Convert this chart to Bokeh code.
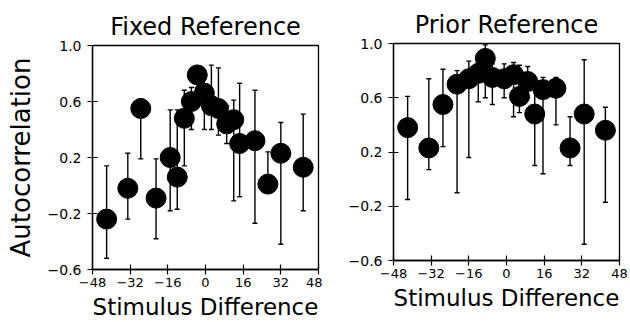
from bokeh.plotting import figure
from bokeh.layouts import row
from bokeh.models import Range1d, FixedTicker, ColumnDataSource, CustomJSTickFormatter
from bokeh.embed import file_html
from bokeh.resources import INLINE

# Fixed Reference panel
fixed_x = [-42, -33, -27.5, -21, -15, -12, -9, -6, -3.5, -0.5, 2.5, 5.5, 9, 12, 14.5, 21, 26.5, 32, 41.5]
fixed_y = [-0.24, -0.02, 0.55, -0.09, 0.20, 0.06, 0.48, 0.60, 0.79, 0.66, 0.57, 0.55, 0.44, 0.47, 0.30, 0.32, 0.01, 0.23, 0.13]
fixed_lo = [-0.52, -0.24, 0.19, -0.38, -0.18, -0.17, 0.14, 0.40, 0.70, 0.40, 0.40, 0.36, 0.30, -0.11, -0.08, -0.27, -0.05, -0.42, -0.18]
fixed_hi = [0.14, 0.23, 0.62, 0.19, 0.54, 0.54, 0.68, 0.70, 0.85, 0.79, 0.86, 0.84, 0.57, 0.61, 0.73, 0.68, 0.24, 0.45, 0.51]

# Prior Reference panel
prior_x = [-42, -33, -27, -21, -16, -12, -9, -6, -1, 3, 5.5, 9, 12, 15.5, 21, 27, 33, 42]
prior_y = [0.38, 0.23, 0.55, 0.70, 0.74, 0.78, 0.89, 0.75, 0.74, 0.77, 0.61, 0.72, 0.48, 0.66, 0.67, 0.23, 0.48, 0.36]
prior_lo = [-0.15, 0.07, 0.24, -0.10, 0.16, 0.57, 0.60, 0.55, 0.60, 0.46, 0.49, 0.60, 0.10, 0.04, 0.40, 0.10, -0.48, -0.17]
prior_hi = [0.61, 0.74, 0.81, 0.80, 0.87, 0.85, 0.99, 0.85, 0.85, 0.86, 0.84, 0.83, 0.70, 0.75, 0.75, 0.46, 0.88, 0.53]

y_ticks = [-0.6, -0.2, 0.2, 0.6, 1.0]
x_ticks = [-48, -32, -16, 0, 16, 32, 48]

FONT = "DejaVu Sans"


def make_panel(title, xs, ys, lo, hi, width, bl, br, bt, bb, ylabel=None):
    p = figure(width=width, height=322, output_backend="svg", toolbar_location=None,
               x_range=Range1d(-48, 48), y_range=Range1d(-0.6, 1.0),
               min_border_left=bl, min_border_right=br, min_border_top=bt, min_border_bottom=bb,
               title=title, frame_align=False)
    p.title.text_font = FONT
    p.title.text_font_size = "24px"
    p.title.text_font_style = "normal"
    p.title.align = "center"
    p.title.text_color = "black"
    p.xgrid.visible = False
    p.ygrid.visible = False
    p.outline_line_color = "black"
    p.outline_line_width = 1.3
    p.background_fill_color = "white"
    p.border_fill_color = "white"

    p.xaxis.ticker = FixedTicker(ticks=x_ticks)
    p.yaxis.ticker = FixedTicker(ticks=y_ticks)
    p.xaxis.formatter = CustomJSTickFormatter(code="return (tick < 0 ? '\u2212' : '') + Math.abs(tick).toFixed(0);")
    p.yaxis.formatter = CustomJSTickFormatter(code="return (tick < 0 ? '\u2212' : '') + Math.abs(tick).toFixed(1);")
    for ax in (p.xaxis, p.yaxis):
        ax.major_tick_in = 5
        ax.major_tick_out = 5
        ax.minor_tick_line_color = None
        ax.axis_line_color = "black"
        ax.axis_line_width = 1.3
        ax.major_tick_line_color = "black"
        ax.major_tick_line_width = 1.2
        ax.major_label_text_font = FONT
        ax.major_label_text_font_size = "14px"
        ax.major_label_text_color = "black"
        ax.axis_label_text_font = FONT
        ax.axis_label_text_font_style = "normal"
        ax.axis_label_text_color = "black"
    p.xaxis.major_label_text_font_size = "13px"
    p.xaxis.major_label_standoff = 3
    p.yaxis.major_label_standoff = 6
    p.xaxis.axis_label = "Stimulus Difference"
    p.xaxis.axis_label_text_font_size = "23px"
    p.xaxis.axis_label_standoff = 4
    if ylabel:
        p.yaxis.axis_label = ylabel
        p.yaxis.axis_label_text_font_size = "26px"
        p.yaxis.axis_label_standoff = 9

    src = ColumnDataSource(dict(x=xs, y=ys, lo=lo, hi=hi))
    p.segment(x0="x", y0="lo", x1="x", y1="hi", source=src, line_color="black", line_width=1.4)
    p.scatter(x="x", y="hi", source=src, marker="dash", size=5, line_color="black", line_width=1.4)
    p.scatter(x="x", y="lo", source=src, marker="dash", size=5, line_color="black", line_width=1.4)
    p.scatter(x="x", y="y", source=src, marker="circle", size=20, fill_color="black", line_color="black")
    return p


left = make_panel("Fixed Reference", fixed_x, fixed_y, fixed_lo, fixed_hi,
                  322, 92, 4, 45, 53, ylabel="Autocorrelation")
right = make_panel("Prior Reference", prior_x, prior_y, prior_lo, prior_hi,
                   308, 71, 11, 43, 62)

layout = row(left, right)
open("out.html", "w").write(file_html(layout, INLINE))
